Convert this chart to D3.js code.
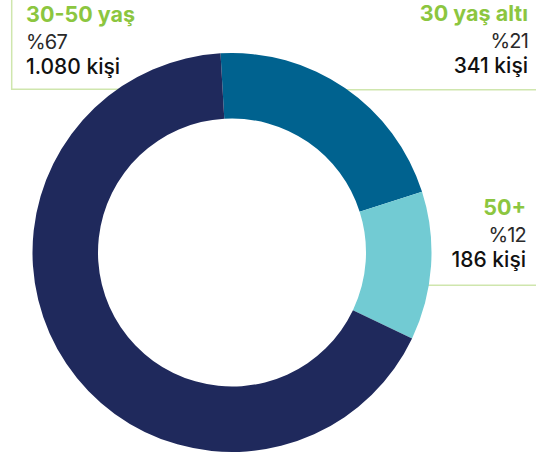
<!DOCTYPE html>
<html lang="tr">
<head>
    <meta charset="UTF-8">
    <title>Yaş dağılımı</title>
    <script src="https://d3js.org/d3.v7.min.js"></script>
    <style>
        body { margin: 0; background: #fff; }
        svg text { font-family: Inter, "Noto Sans", sans-serif; }
    </style>
</head>
<body>
<div id="chart"></div>
<script>
    // Data
    const groups = ["30 yaş altı", "50+", "30-50 yaş"];
    const percents = [21, 12, 67];
    const people = ["341", "186", "1.080"];
    const colors = ["#00628f", "#72cbd3", "#1f295c"];

    const width = 536, height = 453;
    const cx = 232, cy = 252.5;
    const outerR = 199.5, innerR = 134;

    const svg = d3.select("#chart").append("svg")
        .attr("width", width)
        .attr("height", height);

    // Leader lines (drawn first so the ring sits on top)
    const lineColor = "#cfe6ad";
    const leaders = svg.append("g")
        .attr("fill", "none")
        .attr("stroke", lineColor)
        .attr("stroke-width", 1.5);
    leaders.append("path").attr("d", "M11.7,0 V89.3 H140");
    leaders.append("path").attr("d", "M320,89.7 H536");
    leaders.append("path").attr("d", "M400,285.3 H536");

    // Donut
    const pie = d3.pie()
        .sort(null)
        .startAngle(-3.3 * Math.PI / 180)
        .endAngle(2 * Math.PI - 3.3 * Math.PI / 180);
    const arc = d3.arc().innerRadius(innerR).outerRadius(outerR);

    svg.append("g")
        .attr("transform", `translate(${cx},${cy})`)
        .selectAll("path")
        .data(pie(percents))
        .join("path")
        .attr("d", arc)
        .attr("fill", (d, i) => colors[i]);

    // Labels
    const labelPos = [
        {x: 528, y: 21, anchor: "end"},
        {x: 526, y: 215, anchor: "end"},
        {x: 26, y: 22, anchor: "start"}
    ];

    groups.forEach((g, i) => {
        const p = labelPos[i];
        const t = svg.append("text")
            .attr("x", p.x)
            .attr("y", p.y)
            .attr("text-anchor", p.anchor);
        t.append("tspan")
            .attr("x", p.x)
            .attr("font-size", 21.5)
            .attr("font-weight", 700)
            .attr("fill", "#8cc63f")
            .text(g);
        t.append("tspan")
            .attr("x", p.x)
            .attr("dy", 27)
            .attr("font-size", 20)
            .attr("font-weight", 400)
            .attr("letter-spacing", -0.8)
            .attr("fill", "#2a2a2a")
            .text("%" + percents[i]);
        t.append("tspan")
            .attr("x", p.x)
            .attr("dy", 25)
            .attr("font-size", 21)
            .attr("font-weight", 500)
            .attr("letter-spacing", 0)
            .attr("fill", "#111")
            .text(people[i] + " kişi");
    });
</script>
</body>
</html>
